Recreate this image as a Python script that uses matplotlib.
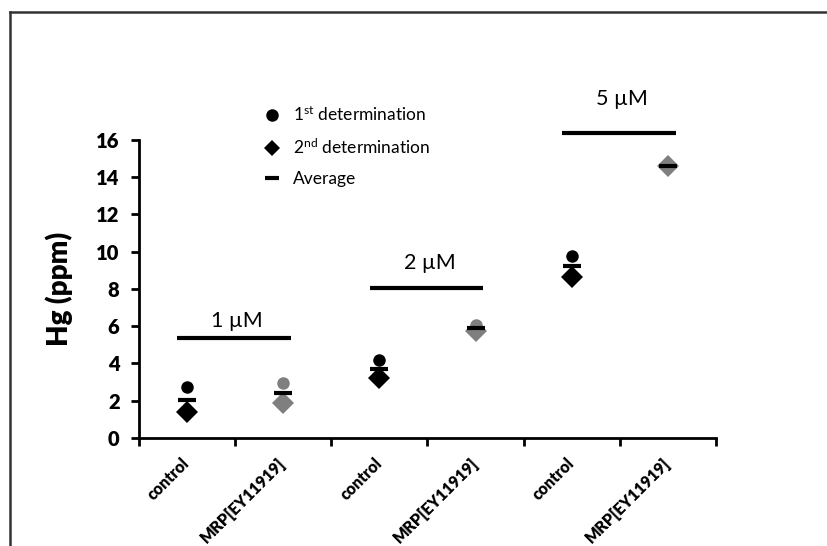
import numpy as np
import matplotlib
matplotlib.use('Agg')
import matplotlib.pyplot as plt
from matplotlib.lines import Line2D

plt.rcParams['font.family'] = ['Lato', 'DejaVu Sans']
plt.rcParams['mathtext.fontset'] = 'custom'
plt.rcParams['mathtext.rm'] = 'Lato'
plt.rcParams['mathtext.default'] = 'regular'

# data
categories = ['control', 'MRP[EY11919]', 'control', 'MRP[EY11919]', 'control', 'MRP[EY11919]']
first_det = [2.72, 2.95, 4.18, 6.05, 9.76, 14.62]
second_det = [1.40, 1.87, 3.20, 5.75, 8.65, 14.58]
average = [2.05, 2.41, 3.69, 5.88, 9.22, 14.60]
group_names = ['1 µM', '2 µM', '5 µM']
group_bar_y = [5.38, 8.03, 16.35]
group_label_y = [6.3, 9.4, 18.2]

colors = ['black', '#7f7f7f'] * 3

fig = plt.figure(figsize=(8.28, 5.46), dpi=100)
ax = fig.add_axes([0.1679, 0.1978, 0.6968, 0.5458])

x = np.arange(len(categories))
for i in x:
    ax.plot(x[i], first_det[i], 'o', ms=9, color=colors[i], mew=0, zorder=3)
    ax.plot(x[i], second_det[i], 'D', ms=11.5, color=colors[i], mew=0, zorder=4)
    ax.plot(x[i], average[i], '_', ms=12.5, mew=3, color='black', zorder=5)

# concentration bars over each pair
for g in range(3):
    x0 = 2 * g
    ax.plot([x0 - 0.1, x0 + 1.08], [group_bar_y[g]] * 2, color='black', lw=3,
            solid_capstyle='butt', clip_on=False)
    ax.text(x0 + 0.52, group_label_y[g], group_names[g], ha='center', va='center',
            fontsize=15.5, clip_on=False)

ax.set_xlim(-0.5, 5.5)
ax.set_ylim(0, 16)
ax.set_yticks(np.arange(0, 17, 2))
ax.set_xticks(x)
ax.set_xticks(np.arange(-0.5, 6, 1), minor=True)
ax.set_xticklabels(categories, rotation=45, ha='right', va='center',
                   rotation_mode='anchor', fontsize=11.5, fontweight='heavy')
ax.tick_params(axis='x', which='major', length=0, pad=16)
ax.tick_params(axis='x', which='minor', length=6, width=2, direction='out')
ax.tick_params(axis='y', length=6, width=2, direction='out', labelsize=14.5, pad=8)
for lab in ax.get_yticklabels():
    lab.set_fontweight('heavy')

for s in ['top', 'right']:
    ax.spines[s].set_visible(False)
for s in ['left', 'bottom']:
    ax.spines[s].set_linewidth(2)

ax.set_ylabel('Hg (ppm)', fontsize=20, fontweight='heavy')
ax.yaxis.set_label_coords(-0.114, 0.5)

handles = [
    Line2D([], [], marker='o', ls='', color='black', ms=9, mew=0),
    Line2D([], [], marker='D', ls='', color='black', ms=8.5, mew=0),
    Line2D([], [], marker='_', ls='', color='black', ms=10, mew=3),
]
labels = ['1$^{st}$ determination', '2$^{nd}$ determination', 'Average']
ax.legend(handles, labels, frameon=False, loc='upper left',
          bbox_to_anchor=(0.2, 1.145), fontsize=12.5, handlelength=1.0,
          handletextpad=0.7, labelspacing=0.8, borderpad=0)

# outer frame of the original figure
fig.add_artist(Line2D([10 / 828, 10 / 828], [0, 1 - 12 / 546], color='#333333', lw=1.8))
fig.add_artist(Line2D([10 / 828, 1], [1 - 12 / 546, 1 - 12 / 546], color='#333333', lw=1.8))

fig.savefig('out.png', dpi=100)
